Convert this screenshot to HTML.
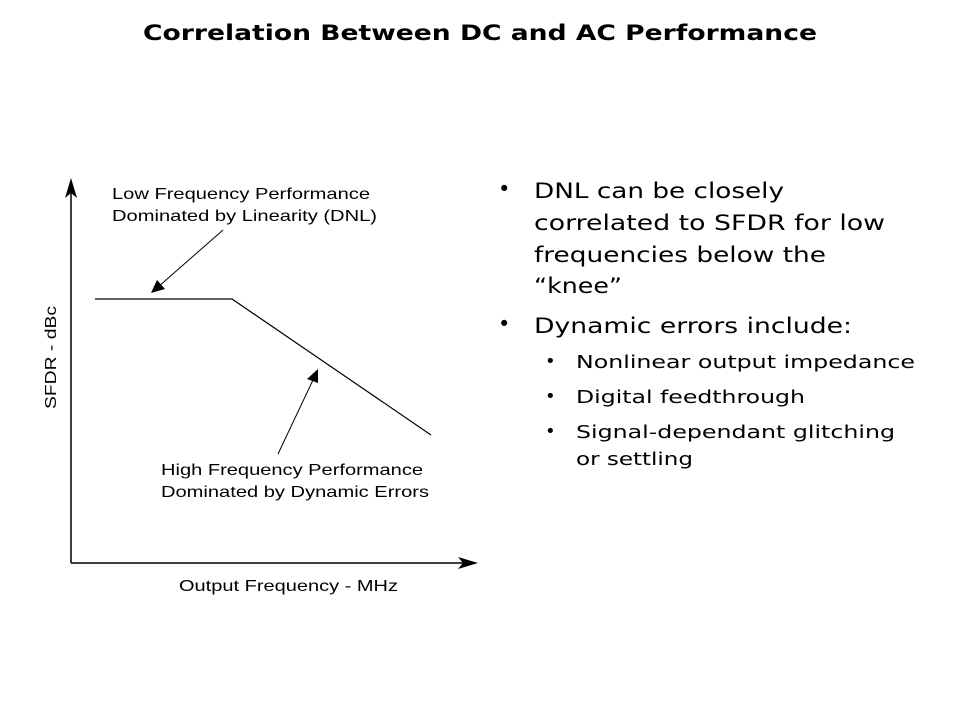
<!DOCTYPE html>
<html><head><meta charset="utf-8"><style>
html,body{margin:0;padding:0;background:#fff;}
svg{display:block;}
</style></head><body>
<svg width="960" height="720" viewBox="0 0 960 720" xmlns="http://www.w3.org/2000/svg">
<rect width="960" height="720" fill="#fff"/>
<text x="143" y="40" font-family="'DejaVu Sans', Verdana, sans-serif" font-weight="bold" font-size="21" textLength="674" lengthAdjust="spacingAndGlyphs" fill="#000">Correlation Between DC and AC Performance</text>

<g stroke="#000" fill="none">
<line x1="71" y1="190" x2="71" y2="563" stroke-width="1.5"/>
<line x1="71" y1="563" x2="466" y2="563" stroke-width="1.5"/>
<polyline points="95,299 232,299 431,435" stroke-width="1.2"/>
<line x1="223" y1="230" x2="158" y2="287" stroke-width="1"/>
<line x1="278" y1="454" x2="313" y2="380" stroke-width="1"/>
</g>
<g fill="#000">
<polygon points="71,178 65,198 71,193 77,198"/>
<polygon points="478,563 458,557 463,563 458,569"/>
<polygon points="151,293 157,280 165,289"/>
<polygon points="318,369 307,379 318,383"/>
</g>

<g font-family="'Liberation Sans', Arial, sans-serif" font-size="16" fill="#000">
<text x="112" y="199" textLength="258" lengthAdjust="spacingAndGlyphs">Low Frequency Performance</text>
<text x="112" y="221" textLength="265" lengthAdjust="spacingAndGlyphs">Dominated by Linearity (DNL)</text>
<text x="161" y="475" textLength="262" lengthAdjust="spacingAndGlyphs">High Frequency Performance</text>
<text x="161" y="497" textLength="268" lengthAdjust="spacingAndGlyphs">Dominated by Dynamic Errors</text>
<text x="179" y="591" textLength="219" lengthAdjust="spacingAndGlyphs">Output Frequency - MHz</text>
<text transform="translate(56,409) rotate(-90)" textLength="103" lengthAdjust="spacingAndGlyphs">SFDR - dBc</text>
</g>

<g font-family="'DejaVu Sans', Verdana, sans-serif" fill="#000">
<g font-size="21">
<text x="498" y="196">•</text>
<text x="534" y="198" textLength="250" lengthAdjust="spacingAndGlyphs">DNL can be closely</text>
<text x="534" y="230" textLength="351" lengthAdjust="spacingAndGlyphs">correlated to SFDR for low</text>
<text x="534" y="262" textLength="292" lengthAdjust="spacingAndGlyphs">frequencies below the</text>
<text x="534" y="293" textLength="88" lengthAdjust="spacingAndGlyphs">“knee”</text>
<text x="498" y="331">•</text>
<text x="534" y="333" textLength="318" lengthAdjust="spacingAndGlyphs">Dynamic errors include:</text>
</g>
<g font-size="18">
<text x="545" y="367">•</text>
<text x="576" y="368" textLength="339" lengthAdjust="spacingAndGlyphs">Nonlinear output impedance</text>
<text x="545" y="402">•</text>
<text x="576" y="403" textLength="229" lengthAdjust="spacingAndGlyphs">Digital feedthrough</text>
<text x="545" y="437">•</text>
<text x="576" y="438" textLength="319" lengthAdjust="spacingAndGlyphs">Signal-dependant glitching</text>
<text x="576" y="465" textLength="117" lengthAdjust="spacingAndGlyphs">or settling</text>
</g>
</g>
</svg>
</body></html>
